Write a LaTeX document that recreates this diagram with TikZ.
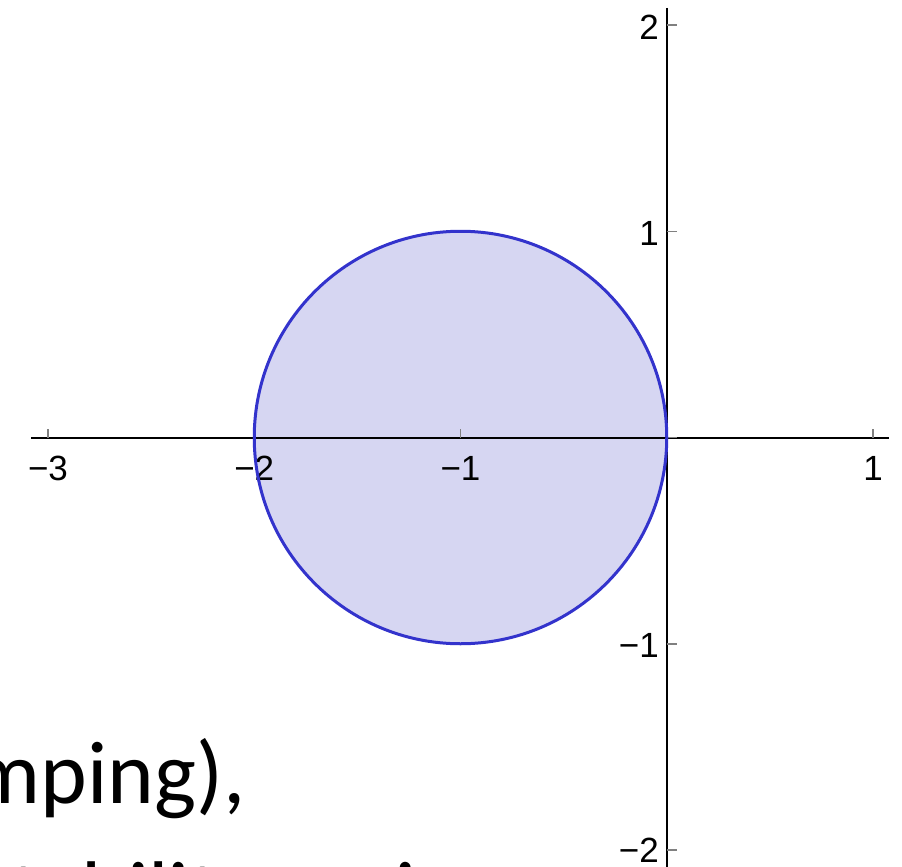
\documentclass[tikz,border=0pt]{standalone}
\usepackage{fontspec}
\setmainfont{Carlito}
\newfontfamily\tickfont{Liberation Sans}
\definecolor{diskfill}{RGB}{214,214,242}
\definecolor{diskline}{RGB}{51,51,204}
\begin{document}
\begin{tikzpicture}[x=1pt,y=-1pt,
  axisline/.style={line width=2pt,black},
  tickmark/.style={line width=1.5pt,black!50},
  ticklabel/.style={inner sep=0pt,font=\tickfont\fontsize{35}{40}\selectfont},
  slidetext/.style={inner sep=0pt,font=\fontsize{89}{108}\selectfont}]
\useasboundingbox (0,0) rectangle (902,867);
\clip (0,0) rectangle (902,867);
% disk fill
\fill[diskfill] (460.5,437.5) circle[radius=206.25pt];
% axes
\coordinate (xleft) at (31,437.5);
\coordinate (xright) at (889,437.5);
\coordinate (ytop) at (666.75,8);
\coordinate (ybot) at (666.75,867);
\draw[axisline] (xleft) -- (xright);
\draw[axisline] (ytop) -- (ybot);
% ticks
\foreach \i in {-3,...,1}{
  \coordinate (xt\i) at ({666.75+206.25*\i},437.5);
  \draw[tickmark] (xt\i) -- ++(0,-9);
}
\foreach \j in {-2,...,2}{
  \coordinate (yt\j) at (666.75,{437.5-206.25*\j});
  \draw[tickmark] (yt\j) -- ++(10,0);
}
% tick labels
\node[ticklabel,anchor=base] (lxm3) at (48,480) {−3};
\node[ticklabel,anchor=base] (lxm2) at (254.25,480) {−2};
\node[ticklabel,anchor=base] (lxm1) at (460.5,480) {−1};
\node[ticklabel,anchor=base] (lxp1) at (873,480) {1};
\node[ticklabel,anchor=base east] (lyp2) at (659,39.5) {2};
\node[ticklabel,anchor=base east] (lyp1) at (659,245.75) {1};
\node[ticklabel,anchor=base east] (lym1) at (659,657.5) {−1};
\node[ticklabel,anchor=base east] (lym2) at (659,862) {−2};
% disk outline
\draw[diskline,line width=3pt] (460.5,437.5) circle[radius=206.25pt];
% slide text (cut off by the frame, as in the reference)
\node[slidetext,anchor=base west] (line1) at (-31,803) {mping),};
\node[slidetext,anchor=base west] (line2) at (-24,923) {stability region};
\end{tikzpicture}
\end{document}
